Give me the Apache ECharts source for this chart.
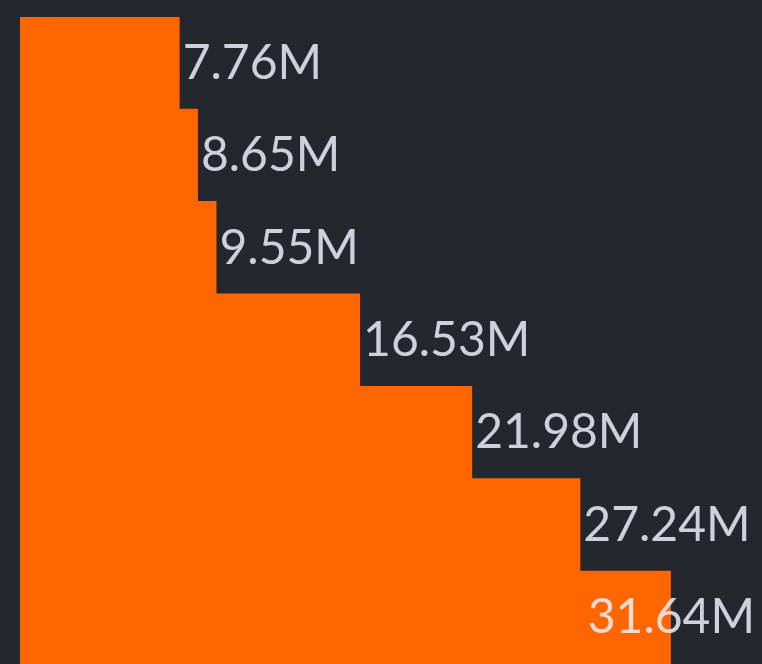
<!DOCTYPE html>
<html>
<head>
<meta charset="utf-8">
<script src="https://cdn.jsdelivr.net/npm/echarts@6/dist/echarts.min.js"></script>
<style>
	html, body { margin: 0; padding: 0; background: #23272e; }
	#chart { width: 762px; height: 664px; }
</style>
</head>
<body>
<div id="chart"></div>
<script>
// values in millions, top to bottom
var categories = ['a', 'b', 'c', 'd', 'e', 'f', 'g'];
var values = [7.76, 8.65, 9.55, 16.53, 21.98, 27.24, 31.64];

var chart = echarts.init(document.getElementById('chart'));
var option = {
	backgroundColor: '#23272e',
	animation: false,
	grid: {
		left: 20,
		right: 22,
		top: 17,
		bottom: -4
	},
	xAxis: {
		type: 'value',
		min: 0,
		max: 35,
		show: false
	},
	yAxis: {
		type: 'category',
		data: categories,
		inverse: true,
		show: false
	},
	series: [{
		type: 'bar',
		data: values,
		barWidth: 94,
		itemStyle: {
			color: '#ff6600'
		},
		label: {
			show: true,
			position: 'right',
			distance: 3,
			fontFamily: 'Lato',
			fontSize: 48,
			color: 'rgba(235,240,250,0.85)',
			formatter: function(p) {
				return p.value.toFixed(2) + 'M';
			}
		},
		// keep labels inside the canvas
		labelLayout: function(params) {
			var r = params.labelRect;
			var over = r.x + r.width - (chart.getWidth() - 7);
			if (over > 0) {
				return { dx: -over };
			}
			return {};
		}
	}]
};
chart.setOption(option);
</script>
</body>
</html>
